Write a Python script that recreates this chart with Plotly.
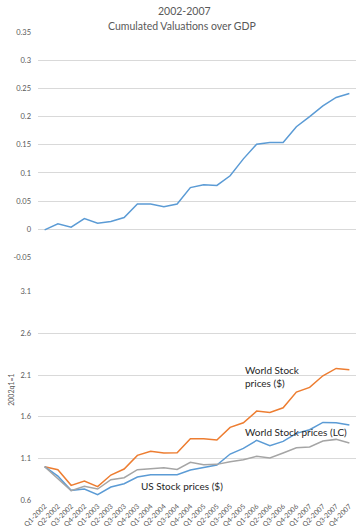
import plotly.graph_objects as go

quarters = [f"Q{q}-{y}" for y in range(2002, 2008) for q in range(1, 5)]

cum_val_gdp = [-0.001, 0.010, 0.004, 0.019, 0.011, 0.014, 0.021, 0.045, 0.045, 0.040,
               0.045, 0.074, 0.079, 0.078, 0.095, 0.125, 0.151, 0.154, 0.154, 0.182,
               0.200, 0.219, 0.234, 0.241]

world_usd = [1.000, 0.964, 0.776, 0.828, 0.760, 0.900, 0.972, 1.136, 1.184, 1.164,
             1.166, 1.336, 1.336, 1.320, 1.472, 1.528, 1.668, 1.652, 1.708, 1.896,
             1.952, 2.092, 2.180, 2.164]

world_lc = [1.000, 0.860, 0.712, 0.764, 0.732, 0.844, 0.868, 0.964, 0.976, 0.988,
            0.966, 1.052, 1.024, 1.028, 1.060, 1.084, 1.124, 1.104, 1.164, 1.228,
            1.236, 1.308, 1.328, 1.284]

us_usd = [1.000, 0.888, 0.716, 0.732, 0.664, 0.756, 0.796, 0.876, 0.904, 0.908,
          0.904, 0.960, 0.992, 1.020, 1.152, 1.220, 1.316, 1.252, 1.304, 1.400,
          1.444, 1.532, 1.528, 1.500]

top_ticks = [-0.05, 0, 0.05, 0.1, 0.15, 0.2, 0.25, 0.3, 0.35]
top_ticktext = ["-0.05", "0", "0.05", "0.1", "0.15", "0.2", "0.25", "0.3", "0.35"]
bot_ticks = [0.6, 1.1, 1.6, 2.1, 2.6, 3.1]
bot_ticktext = ["0.6", "1.1", "1.6", "2.1", "2.6", "3.1"]

BLUE = "#5b9bd5"
ORANGE = "#ed7d31"
GRAY = "#a5a5a5"
FONT = "Lato"
TICKC = "#595959"

fig = go.Figure()
fig.add_trace(go.Scatter(x=quarters, y=cum_val_gdp, mode="lines",
                         line=dict(color=BLUE, width=1.5), xaxis="x", yaxis="y",
                         showlegend=False))
fig.add_trace(go.Scatter(x=quarters, y=world_usd, mode="lines",
                         line=dict(color=ORANGE, width=1.5), xaxis="x2", yaxis="y2",
                         showlegend=False))
fig.add_trace(go.Scatter(x=quarters, y=us_usd, mode="lines",
                         line=dict(color=BLUE, width=1.5), xaxis="x2", yaxis="y2",
                         showlegend=False))
fig.add_trace(go.Scatter(x=quarters, y=world_lc, mode="lines",
                         line=dict(color=GRAY, width=1.5), xaxis="x2", yaxis="y2",
                         showlegend=False))

L, R, T, B = 38, 2, 32, 30.7
W, H = 358, 531
ph = H - T - B
pw = W - L - R

def py(px):
    return (H - B - px) / ph

def pxx(px):
    return (px - L) / pw

grid = "#d9d9d9"
xcommon = dict(type="category", range=[-0.5, 23.5], showgrid=False, zeroline=False,
               showline=False, ticks="")
fig.update_layout(
    width=W, height=H,
    margin=dict(l=L, r=R, t=T, b=B),
    paper_bgcolor="white", plot_bgcolor="white",
    font=dict(family=FONT, color=TICKC),
    xaxis=dict(**xcommon, anchor="y", showticklabels=False),
    yaxis=dict(domain=[py(257.7), 1], range=[-0.05, 0.35], tickvals=top_ticks,
               ticktext=top_ticktext, showgrid=True, gridcolor=grid, gridwidth=1,
               zeroline=False, showline=False, tickfont=dict(size=7.5, color=TICKC),
               ticklabelstandoff=6),
    xaxis2=dict(**xcommon, anchor="y2", tickangle=-45,
                tickfont=dict(size=7, color=TICKC)),
    yaxis2=dict(domain=[0, py(292)], range=[0.6, 3.1], tickvals=bot_ticks,
                ticktext=bot_ticktext, showgrid=True, gridcolor=grid, gridwidth=1,
                zeroline=False, showline=False, tickfont=dict(size=7.5, color=TICKC),
                ticklabelstandoff=6),
)

ann = [
    dict(text="2002-2007", x=pxx(184), y=py(11), size=10.5, color=TICKC, xanchor="center"),
    dict(text="Cumulated Valuations over GDP", x=pxx(182), y=py(25.7), size=10.5,
         color=TICKC, xanchor="center"),
    dict(text="World Stock<br>prices ($)", x=pxx(243), y=py(377), size=10,
         color="#262626", xanchor="left"),
    dict(text="World Stock prices (LC)", x=pxx(242.5), y=py(432), size=10,
         color="#262626", xanchor="left"),
    dict(text="US Stock prices ($)", x=pxx(139), y=py(486), size=10,
         color="#262626", xanchor="left"),
]
annotations = []
for a in ann:
    annotations.append(dict(text=a["text"], x=a["x"], y=a["y"], xref="paper", yref="paper",
                            xanchor=a["xanchor"], yanchor="middle", showarrow=False,
                            align="left", font=dict(size=a["size"], color=a["color"],
                                                    family=FONT)))
annotations.append(dict(text="2002q1=1", x=pxx(11), y=py(390), xref="paper", yref="paper",
                        xanchor="center", yanchor="middle", showarrow=False, textangle=-90,
                        font=dict(size=7, color=TICKC, family=FONT)))
fig.update_layout(annotations=annotations)

fig.write_html("out.html")
